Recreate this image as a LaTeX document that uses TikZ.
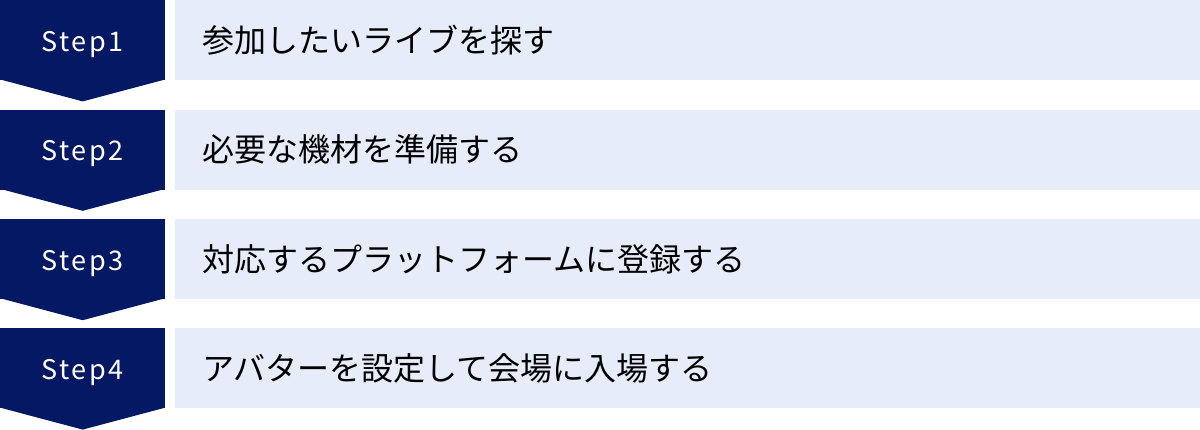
\documentclass[tikz,border=0pt]{standalone}
\usepackage{fontspec}
\setmainfont{Noto Sans CJK JP}
\newfontfamily\stepfont[LetterSpace=9]{Noto Sans CJK JP}
\usetikzlibrary{positioning}
\definecolor{stepnavy}{RGB}{5,24,100}
\definecolor{rowblue}{RGB}{230,236,249}

\begin{document}
\begin{tikzpicture}[x=1pt,y=1pt,node distance=29pt and 9pt,
	stepbox/.style={rectangle,fill=stepnavy,text=white,minimum width=165pt,minimum height=80pt,inner sep=0pt,text height=22pt,text depth=0pt,font=\stepfont\fontsize{27}{32}\selectfont},
	rowbox/.style={rectangle,fill=rowblue,text width=970pt,inner xsep=28pt,inner ysep=0pt,minimum height=80pt,align=left,font=\fontsize{32}{38}\selectfont}]
	
	\useasboundingbox (0,0) rectangle (1200,-429);
	
	% ステップ見出し
	\node[stepbox,anchor=north west] (S1) at (0,0) {Step1};
	\node[stepbox,below=of S1] (S2) {Step2};
	\node[stepbox,below=of S2] (S3) {Step3};
	\node[stepbox,below=of S3] (S4) {Step4};
	
	% 見出しの下向きの先
	\fill[stepnavy] ([yshift=1pt]S1.south west) -- ([yshift=1pt]S1.south east) -- ([yshift=-21pt]S1.south) -- cycle;
	\fill[stepnavy] ([yshift=1pt]S2.south west) -- ([yshift=1pt]S2.south east) -- ([yshift=-21pt]S2.south) -- cycle;
	\fill[stepnavy] ([yshift=1pt]S3.south west) -- ([yshift=1pt]S3.south east) -- ([yshift=-21pt]S3.south) -- cycle;
	\fill[stepnavy] ([yshift=1pt]S4.south west) -- ([yshift=1pt]S4.south east) -- ([yshift=-21pt]S4.south) -- cycle;
	
	% 各ステップの内容
	\node[rowbox,right=of S1] (R1) {参加したいライブを探す};
	\node[rowbox,right=of S2] (R2) {必要な機材を準備する};
	\node[rowbox,right=of S3] (R3) {対応するプラットフォームに登録する};
	\node[rowbox,right=of S4] (R4) {アバターを設定して会場に入場する};
	
\end{tikzpicture}
\end{document}
